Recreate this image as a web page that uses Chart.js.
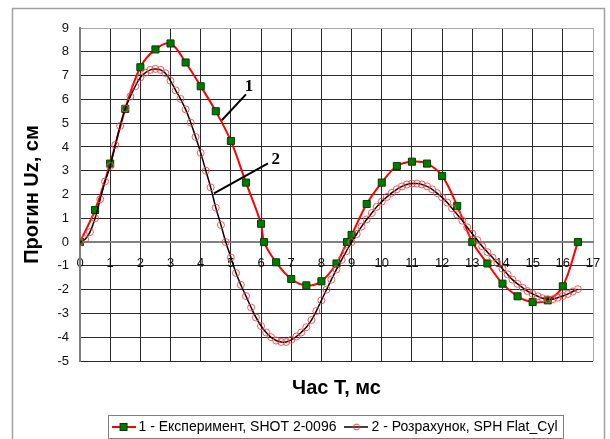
<!DOCTYPE html>
<html>
<head>
<meta charset="utf-8">
<script src="https://cdn.jsdelivr.net/npm/chart.js@4.4.1/dist/chart.umd.min.js"></script>
<style>
  html, body { margin: 0; padding: 0; background: #fff; }
  #wrap { width: 610px; height: 439px; position: relative; }
</style>
</head>
<body>
<div id="wrap"><canvas id="chartCanvas"></canvas></div>
<script>
// 1 - experiment (green squares, red line)
const expTime = [0, 0.5, 1.0, 1.5, 2.0, 2.5, 3.0, 3.5, 4.0, 4.5, 5.0, 5.5, 6.0, 6.1, 6.5, 7.0, 7.5, 8.0, 8.5, 8.85,
                 9.0, 9.5, 10.0, 10.5, 11.0, 11.5, 12.0, 12.5, 13.0, 13.5, 14.0, 14.5, 15.0, 15.5, 16.0, 16.5];
const expUz = [0, 1.35, 3.3, 5.6, 7.35, 8.1, 8.35, 7.55, 6.55, 5.5, 4.25, 2.5, 0.77, 0.0, -0.85, -1.55, -1.82, -1.65, -0.9, 0.0,
               0.3, 1.6, 2.5, 3.2, 3.38, 3.3, 2.78, 1.52, 0.0, -0.9, -1.75, -2.28, -2.52, -2.45, -1.86, 0.0];

// 2 - calculation (black line, red circles)
const calcTime = [0, 0.17, 0.33, 0.5, 0.67, 0.83, 1.0, 1.17, 1.33, 1.5, 1.67, 1.83, 2.0, 2.17, 2.33, 2.5, 2.67, 2.83, 3.0, 3.17,
                  3.33, 3.5, 3.67, 3.83, 4.0, 4.17, 4.33, 4.5, 4.67, 4.83, 5.0, 5.17, 5.33, 5.5, 5.67, 5.83, 6.0, 6.17, 6.33, 6.5,
                  6.67, 6.83, 7.0, 7.17, 7.33, 7.5, 7.67, 7.83, 8.0, 8.17, 8.33, 8.5, 8.67, 8.83, 9.0, 9.17, 9.33, 9.5, 9.67, 9.83,
                  10.0, 10.17, 10.33, 10.5, 10.67, 10.83, 11.0, 11.17, 11.33, 11.5, 11.67, 11.83, 12.0, 12.17, 12.33, 12.5, 12.67, 12.83, 13.0, 13.17,
                  13.33, 13.5, 13.67, 13.83, 14.0, 14.17, 14.33, 14.5, 14.67, 14.83, 15.0, 15.17, 15.33, 15.5, 15.67, 15.83, 16.0, 16.17, 16.33, 16.5];
const calcUz = [0, 0.12, 0.42, 1.0, 1.8, 2.55, 3.2, 4.08, 4.88, 5.62, 6.12, 6.55, 6.92, 7.12, 7.24, 7.28, 7.24, 7.1, 6.78, 6.38,
                6.02, 5.58, 5.02, 4.42, 3.75, 3.0, 2.3, 1.45, 0.72, 0.0, -0.65, -1.3, -1.8, -2.27, -2.75, -3.17, -3.53, -3.8, -4.0, -4.14,
                -4.2, -4.2, -4.11, -3.97, -3.8, -3.58, -3.28, -2.9, -2.45, -2.0, -1.58, -1.15, -0.75, -0.38, 0.0, 0.34, 0.65, 0.95, 1.22, 1.48,
                1.7, 1.9, 2.07, 2.22, 2.34, 2.42, 2.46, 2.46, 2.42, 2.34, 2.22, 2.06, 1.88, 1.66, 1.42, 1.16, 0.9, 0.62, 0.35, 0.08,
                -0.18, -0.42, -0.65, -0.88, -1.12, -1.36, -1.58, -1.76, -1.92, -2.06, -2.18, -2.28, -2.36, -2.4, -2.4, -2.34, -2.27, -2.18, -2.08, -1.98];

const seriesLabels = ['1 - Експеримент, SHOT 2-0096', '2 - Розрахунок, SPH Flat_Cyl'];

// callouts "1" and "2" (in data units)
const callouts = [
  { text: '1', at: [5.6, 6.55], from: [5.5, 6.21], to: [4.7, 5.12] },
  { text: '2', at: [6.49, 3.48], from: [6.23, 3.31], to: [4.44, 2.05] }
];

function toPoints(xs, ys) {
  return xs.map((x, i) => ({ x: x, y: ys[i] }));
}

function legendIcon(kind) {
  const c = document.createElement('canvas');
  c.width = 24; c.height = 10;
  const g = c.getContext('2d');
  if (kind === 1) {
    g.strokeStyle = '#ff0000'; g.lineWidth = 2;
    g.beginPath(); g.moveTo(0, 5); g.lineTo(24, 5); g.stroke();
    g.fillStyle = '#007a00'; g.fillRect(8.5, 1.5, 7, 7);
    g.strokeStyle = '#004000'; g.lineWidth = 1; g.strokeRect(8.5, 1.5, 7, 7);
  } else {
    g.strokeStyle = '#000'; g.lineWidth = 1.5;
    g.beginPath(); g.moveTo(0, 5); g.lineTo(24, 5); g.stroke();
    g.strokeStyle = 'rgba(255,60,60,0.95)'; g.lineWidth = 1;
    g.beginPath(); g.arc(12, 5, 3, 0, Math.PI * 2); g.stroke();
  }
  return c;
}
const icons = [legendIcon(1), legendIcon(2)];

const framePlugin = {
  id: 'frame',
  beforeDraw(chart) {
    const ctx = chart.ctx;
    ctx.save();
    ctx.fillStyle = '#fff';
    ctx.fillRect(0, 0, chart.width, chart.height);
    ctx.strokeStyle = '#a0a0a0';
    ctx.lineWidth = 1.5;
    ctx.strokeRect(12.5, 8.5, 592, 440);
    ctx.restore();
  },
  afterDatasetsDraw(chart) {
    const ctx = chart.ctx;
    const sx = chart.scales.x, sy = chart.scales.y;
    ctx.save();
    ctx.strokeStyle = '#000';
    ctx.lineWidth = 2;
    ctx.fillStyle = '#000';
    ctx.font = 'bold 17px "Liberation Serif"';
    ctx.textAlign = 'center';
    ctx.textBaseline = 'middle';
    callouts.forEach(c => {
      ctx.beginPath();
      ctx.moveTo(sx.getPixelForValue(c.from[0]), sy.getPixelForValue(c.from[1]));
      ctx.lineTo(sx.getPixelForValue(c.to[0]), sy.getPixelForValue(c.to[1]));
      ctx.stroke();
      ctx.fillText(c.text, sx.getPixelForValue(c.at[0]), sy.getPixelForValue(c.at[1]));
    });
    ctx.restore();
  },
  afterDraw(chart) {
    const hb = chart.legend && chart.legend.legendHitBoxes;
    if (!hb || !hb.length) return;
    const ctx = chart.ctx;
    const last = hb[hb.length - 1];
    const left = Math.round(hb[0].left - 8) + 0.5;
    const right = Math.round(last.left + last.width + 6) + 0.5;
    const cy = hb[0].top + hb[0].height / 2;
    const top = Math.min(Math.round(cy - 12.5), chart.height - 24) + 0.5;
    ctx.save();
    ctx.strokeStyle = '#808080';
    ctx.lineWidth = 1;
    ctx.strokeRect(left, top, right - left, 23);
    ctx.restore();
  }
};

const gridColor = (edge) => (c) => {
  const v = c.tick && c.tick.value;
  if (v === edge) return '#a8a8a8';
  if (v === 0) return '#808080';
  return '#2a2a2a';
};
const gridWidth = (c) => (c.tick && c.tick.value === 0 ? 2 : 1);

new Chart('chartCanvas', {
  type: 'line',
  data: {
    datasets: [
      {
        label: seriesLabels[0],
        data: toPoints(expTime, expUz),
        borderColor: '#ff0000',
        borderWidth: 2,
        tension: 0.35,
        pointStyle: 'rect',
        pointRadius: 5,
        pointBackgroundColor: '#007a00',
        pointBorderColor: '#004000',
        pointBorderWidth: 1,
        order: 1
      },
      {
        label: seriesLabels[1],
        data: toPoints(calcTime, calcUz),
        borderColor: '#000000',
        borderWidth: 1.5,
        tension: 0.4,
        pointStyle: 'circle',
        pointRadius: 3.5,
        pointBackgroundColor: 'rgba(0,0,0,0)',
        pointBorderColor: 'rgba(255,70,70,0.9)',
        pointBorderWidth: 1,
        order: 0
      }
    ]
  },
  options: {
    responsive: true,
    maintainAspectRatio: false,
    animation: false,
    layout: { padding: { left: 0, right: 17, top: 28, bottom: -5 } },
    scales: {
      x: {
        type: 'linear',
        position: { y: 0 },
        min: 0, max: 17,
        // labels pushed below the zero line with an invisible tick mark
        ticks: { stepSize: 1, padding: 3, color: '#111', font: { family: 'Liberation Sans', size: 13 } },
        grid: { color: gridColor(17), lineWidth: gridWidth, drawTicks: true, tickLength: 11, tickColor: 'rgba(0,0,0,0)' },
        border: { color: '#808080', width: 2 }
      },
      x2: {
        type: 'linear',
        position: 'bottom',
        min: 0, max: 17,
        ticks: { display: false },
        grid: { display: false, drawTicks: false },
        border: { display: false },
        title: { display: true, text: 'Час Т, мс', color: '#000', padding: { top: 0, bottom: 8 },
                 font: { family: 'Liberation Sans', size: 20, weight: 'bold' } },
        afterFit(s) { s.height = 47; }
      },
      y: {
        type: 'linear',
        position: 'left',
        min: -5, max: 9,
        ticks: { stepSize: 1, padding: 11, color: '#111', font: { family: 'Liberation Sans', size: 13 } },
        grid: { color: gridColor(9), lineWidth: gridWidth, drawTicks: false },
        border: { color: '#808080', width: 2 },
        title: { display: true, text: 'Прогин Uz, см', color: '#000', padding: { top: 20, bottom: 0 },
                 font: { family: 'Liberation Sans', size: 20, weight: 'bold' } },
        afterFit(s) { s.width = 80; }
      }
    },
    plugins: {
      title: { display: false },
      tooltip: { enabled: false },
      legend: {
        position: 'bottom',
        fullSize: false,
        labels: {
          usePointStyle: true,
          pointStyleWidth: 16,
          padding: 12,
          color: '#000',
          font: { family: 'Liberation Sans', size: 14 },
          generateLabels: (chart) => chart.data.datasets.map((ds, i) => ({
            text: ds.label,
            pointStyle: icons[i],
            datasetIndex: i,
            fillStyle: 'rgba(0,0,0,0)',
            strokeStyle: 'rgba(0,0,0,0)',
            lineWidth: 0,
            fontColor: '#000',
            hidden: false
          }))
        }
      }
    }
  },
  plugins: [framePlugin]
});
</script>
</body>
</html>
